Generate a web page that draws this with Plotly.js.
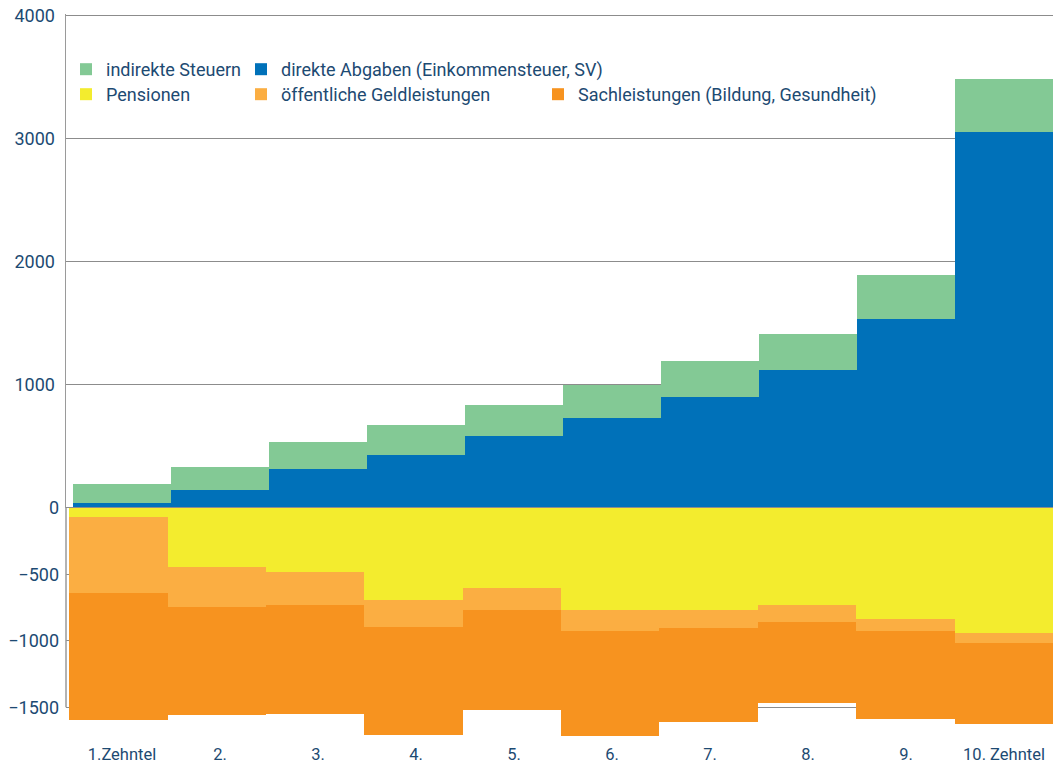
<!DOCTYPE html>
<html>
<head>
<meta charset="utf-8">
<script src="https://cdn.plot.ly/plotly-3.0.1.min.js"></script>
<style>
  html, body { margin: 0; padding: 0; background: #ffffff; }
  #chart { width: 1053px; height: 762px; }
</style>
</head>
<body>
<div id="chart"></div>
<script>
// Abgaben (positiv) und Leistungen (negativ) je Einkommenszehntel, Euro pro Monat
const categories = ['1.Zehntel', '2.', '3.', '4.', '5.', '6.', '7.', '8.', '9.', '10. Zehntel'];

const direkteAbgaben   = [38, 144, 314, 428, 582, 729, 899, 1119, 1533, 3054];
const indirekteSteuern = [155, 187, 220, 244, 252, 268, 293, 292, 357, 429];

const pensionen        = [-70, -446, -483, -693, -603, -769, -769, -731, -836, -941];
const geldleistungen   = [-571, -300, -248, -203, -166, -157, -135, -128, -90, -76];
const sachleistungen   = [-952, -811, -817, -812, -751, -789, -706, -606, -662, -608];

const posTicks = [1000, 2000, 3000, 4000];
const negTicks = [0, -500, -1000, -1500];

const textColor = '#1d4a72';
const gridColor = '#8c8c8c';
const axisColor = '#9a9a9a';
const fontFamily = 'Roboto, "Open Sans", "Liberation Sans", sans-serif';

const W = 1053, H = 762;
const L = 66;                 // left margin (axis line position)
const plotW = W - L;

// helpers converting pixel positions to paper fractions
const px = x => (x - L) / plotW;
const py = y => 1 - y / H;

// vertical scale of the two halves
const zeroY = 507.7;
const posTop = 14.07, posMax = 4010;
const negScale = 0.1331;      // px per unit in the lower half
const negBottom = 740, negMin = -(negBottom - zeroY) / negScale, negMax = 10;
const negTop = zeroY - negMax * negScale;

const traces = [
  { name: 'direkte Abgaben (Einkommensteuer, SV)', x: categories, y: direkteAbgaben,
    type: 'bar', xaxis: 'x', yaxis: 'y', marker: { color: '#0071b9', line: { width: 0 } },
    legend: 'legend2' },
  { name: 'indirekte Steuern', x: categories, y: indirekteSteuern,
    type: 'bar', xaxis: 'x', yaxis: 'y', marker: { color: '#83c995', line: { width: 0 } },
    legend: 'legend' },
  { name: 'Pensionen', x: categories, y: pensionen,
    type: 'bar', xaxis: 'x2', yaxis: 'y2',
    marker: { color: '#f3ec2e', line: { width: 0 } }, legend: 'legend3' },
  { name: 'öffentliche Geldleistungen', x: categories, y: geldleistungen,
    type: 'bar', xaxis: 'x2', yaxis: 'y2',
    marker: { color: '#fbae42', line: { width: 0 } }, legend: 'legend4' },
  { name: 'Sachleistungen (Bildung, Gesundheit)', x: categories, y: sachleistungen,
    type: 'bar', xaxis: 'x2', yaxis: 'y2',
    marker: { color: '#f7931f', line: { width: 0 } }, legend: 'legend5' }
];

function legendAt(xPx, yPx) {
  return {
    x: px(xPx), y: py(yPx), xanchor: 'left', yanchor: 'middle',
    orientation: 'v', bgcolor: 'rgba(0,0,0,0)', borderwidth: 0,
    font: { family: fontFamily, size: 18, color: textColor }
  };
}

const layout = {
  width: W, height: H,
  margin: { l: L, r: 0, t: 0, b: 0, pad: 0 },
  paper_bgcolor: '#ffffff', plot_bgcolor: 'rgba(0,0,0,0)',
  barmode: 'relative', bargap: 0,
  font: { family: fontFamily, color: textColor },
  showlegend: true,
  // upper half: categories 98 px wide starting at x = 73
  xaxis: {
    type: 'category', range: [-0.5714, 9.5], domain: [0, 1],
    anchor: 'free', position: py(742),
    showgrid: false, showline: false, zeroline: false, ticks: '',
    tickfont: { family: fontFamily, size: 16.5, color: textColor },
    fixedrange: true
  },
  // lower half: slightly different horizontal scale
  xaxis2: {
    type: 'category', range: [-0.532, 9.5], domain: [0, 1],
    anchor: 'y2', showticklabels: false,
    showgrid: false, showline: false, zeroline: false, ticks: '',
    fixedrange: true
  },
  yaxis: {
    domain: [py(zeroY), py(posTop)], range: [0, posMax],
    anchor: 'x',
    tickvals: posTicks, ticks: '', ticklabelstandoff: 6,
    showgrid: true, gridcolor: gridColor, gridwidth: 1,
    showline: true, linecolor: axisColor, linewidth: 1.5,
    zeroline: false,
    tickfont: { family: fontFamily, size: 18, color: textColor },
    fixedrange: true
  },
  yaxis2: {
    domain: [py(negBottom), py(negTop)], range: [negMin, negMax],
    anchor: 'x2',
    tickvals: negTicks, ticks: '', ticklabelstandoff: 6,
    showgrid: true, gridcolor: gridColor, gridwidth: 1,
    showline: false, zeroline: false,
    tickfont: { family: fontFamily, size: 18, color: textColor },
    fixedrange: true
  },
  shapes: [
    // axis line continuing through the lower half down to -1500
    { type: 'line', xref: 'paper', yref: 'y2', x0: 0, x1: 0, y0: 0, y1: -1500,
      line: { color: axisColor, width: 1.5 }, layer: 'above' }
  ],
  legend:  legendAt(66, 69.5),
  legend2: legendAt(241, 69.5),
  legend3: legendAt(66, 94.5),
  legend4: legendAt(241, 94.5),
  legend5: legendAt(538, 94.5)
};

Plotly.newPlot('chart', traces, layout, { staticPlot: true, displayModeBar: false });
</script>
</body>
</html>
